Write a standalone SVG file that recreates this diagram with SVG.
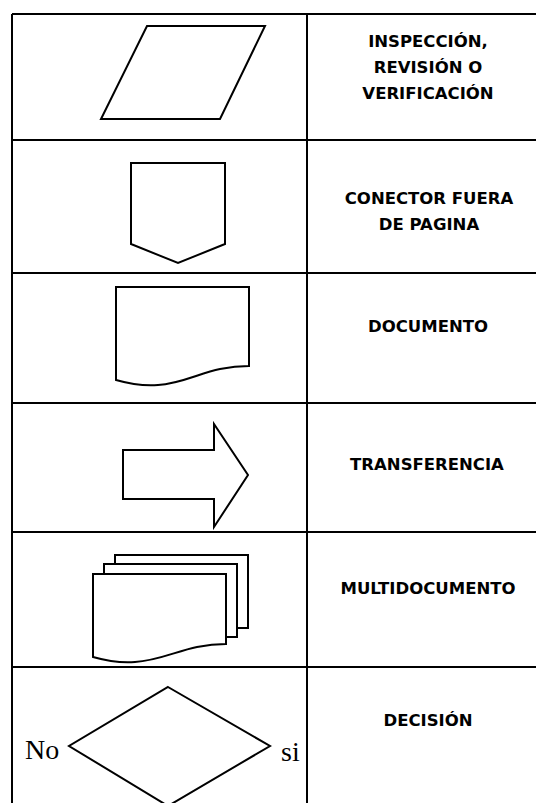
<svg xmlns="http://www.w3.org/2000/svg" width="536" height="803" viewBox="0 0 536 803">
<style>
.grid{stroke:#000;stroke-width:2;fill:none}
.shape{stroke:#000;stroke-width:2;fill:#fff;stroke-linejoin:miter}
.lbl{font-family:"DejaVu Sans","Liberation Sans",sans-serif;font-weight:bold;font-size:16.5px;fill:#000;text-anchor:middle}
.ser{font-family:"Liberation Serif","Times New Roman",serif;font-size:28px;fill:#000}
</style>
<rect width="536" height="803" fill="#fff"/>
<g id="table">
<path class="grid" d="M12,14 H536 M12,14 V803 M307,14 V803 M12,140 H536 M12,273 H536 M12,403 H536 M12,532 H536 M12,667 H536"/>
</g>
<g id="inspeccion">
<polygon class="shape" points="147,26 265,26 220,119 101,119"/>
<text class="lbl" x="428" y="47">INSPECCIÓN,</text>
<text class="lbl" x="428" y="73">REVISIÓN O</text>
<text class="lbl" x="428" y="99">VERIFICACIÓN</text>
</g>
<g id="conector">
<polygon class="shape" points="131,163 225,163 225,244 178,263 131,244"/>
<text class="lbl" x="429" y="204">CONECTOR FUERA</text>
<text class="lbl" x="429" y="230">DE PAGINA</text>
</g>
<g id="documento">
<path class="shape" d="M116,287 H249 V366 C240,366 230,367 220,369 C200,373 180,384 158,385 C145,386 130,384 116,380 Z"/>
<text class="lbl" x="428" y="332">DOCUMENTO</text>
</g>
<g id="transferencia">
<polygon class="shape" points="123,450 214,450 214,424 248,475 214,527 214,499 123,499"/>
<text class="lbl" x="427" y="470">TRANSFERENCIA</text>
</g>
<g id="multidocumento">
<rect class="shape" x="115" y="555" width="133" height="73"/>
<rect class="shape" x="104" y="564" width="133" height="73"/>
<path class="shape" d="M93,574 H226 V644 C217,644 207,645 197,647 C177,651 157,661 135,662 C122,663 107,661 93,657 Z"/>
<text class="lbl" x="428" y="594">MULTIDOCUMENTO</text>
</g>
<g id="decision">
<polygon class="shape" points="168,687 270,746 168,806 69,746"/>
<text class="ser" x="25" y="759">No</text>
<text class="ser" x="281" y="761">si</text>
<text class="lbl" x="428" y="726">DECISIÓN</text>
</g>
</svg>
